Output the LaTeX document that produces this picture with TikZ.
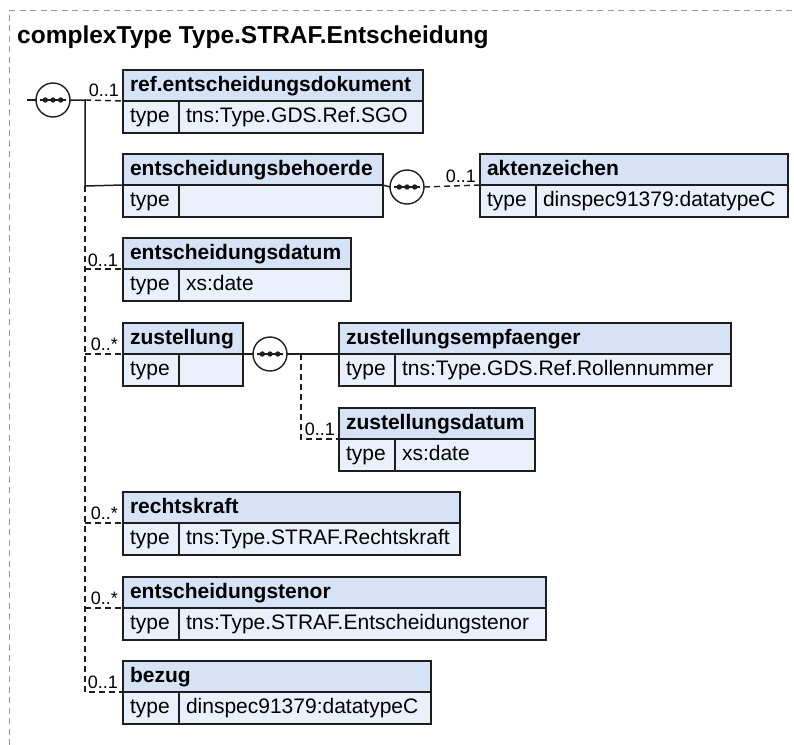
\documentclass[tikz,border=0pt]{standalone}
\usepackage{fontspec}
\setmainfont{Liberation Sans}
\definecolor{hdrfill}{RGB}{214,226,246}
\definecolor{rowfill}{RGB}{234,241,252}
\definecolor{framegray}{RGB}{150,150,150}
\definecolor{edgecol}{RGB}{30,30,30}
\tikzset{
  hdr/.style={rectangle, draw=edgecol, line width=1.3pt, fill=hdrfill, minimum height=31pt,
    inner xsep=7pt, inner ysep=0pt, outer sep=0pt, text height=14pt, text depth=2pt, align=left,
    font={\fontsize{21}{25}\selectfont\bfseries}},
  rowcell/.style={rectangle, draw=edgecol, line width=1.3pt, fill=rowfill, minimum height=32pt,
    inner xsep=7pt, inner ysep=0pt, outer sep=0pt, text height=14pt, text depth=3pt, align=left,
    font={\fontsize{21}{25}\selectfont}},
  seqnode/.style={circle, draw=edgecol, line width=1.4pt, fill=white, minimum size=34pt, inner sep=0pt, outer sep=0pt},
  solidline/.style={draw=edgecol, line width=1.5pt},
  dashline/.style={draw=edgecol, line width=1.4pt, dash pattern=on 6pt off 4pt},
  mult/.style={font={\fontsize{18}{21}\selectfont}, inner sep=0pt, anchor=base east},
  titlenode/.style={font={\fontsize{24.5}{28}\selectfont\bfseries}, inner sep=0pt, anchor=base west},
  framestyle/.style={draw=framegray, line width=1pt, dash pattern=on 6pt off 4.5pt}
}
\newcommand{\xsdbox}[6]{%
  \pgfmathsetmacro{\xsdtw}{#4-14}%
  \pgfmathsetmacro{\xsdvw}{#4-56-14}%
  \node[hdr, text width=\xsdtw pt, anchor=north west] (#1) at (#2,#3) {#5};
  \node[rowcell, text width=42pt, anchor=north west] (#1-t) at (#1.south west) {type};
  \node[rowcell, text width=\xsdvw pt, anchor=north west] (#1-v) at (#1-t.north east) {#6};
}
\newcommand{\seqdots}[1]{%
  \draw[line width=1.3pt, edgecol] ([xshift=-13pt]#1.center) -- ([xshift=13pt]#1.center);
  \foreach \dx in {-7.7,0,7.7} \fill[edgecol] ([xshift=\dx pt]#1.center) circle (2.7pt);
}
\begin{document}
\begin{tikzpicture}[x=1pt, y=-1pt]
\useasboundingbox (0,0) rectangle (794,744);
\draw[framestyle] (9,745) -- (9,10) -- (795,10);
\node[titlenode] (title) at (17,43) {complexType Type.STRAF.Entscheidung};

% element boxes
\xsdbox{ref}{123}{70}{300}{ref.entscheidungsdokument}{tns:Type.GDS.Ref.SGO}
\xsdbox{beh}{123}{154}{260}{entscheidungsbehoerde}{}
\xsdbox{akten}{480}{154}{308}{aktenzeichen}{dinspec91379:datatypeC}
\xsdbox{datum}{123}{238}{228}{entscheidungsdatum}{xs:date}
\xsdbox{zust}{123}{323}{120}{zustellung}{}
\xsdbox{empf}{339}{323}{392}{zustellungsempfaenger}{tns:Type.GDS.Ref.Rollennummer}
\xsdbox{zdat}{339}{408}{196}{zustellungsdatum}{xs:date}
\xsdbox{recht}{123}{492}{337}{rechtskraft}{tns:Type.STRAF.Rechtskraft}
\xsdbox{tenor}{123}{577}{423}{entscheidungstenor}{tns:Type.STRAF.Entscheidungstenor}
\xsdbox{bezug}{123}{661}{308}{bezug}{dinspec91379:datatypeC}

% sequence compositors
\node[seqnode] (seqa) at (53,100) {};
\node[seqnode] (seqb) at (407,187) {};
\node[seqnode] (seqc) at (270,354) {};
\seqdots{seqa}
\seqdots{seqb}
\seqdots{seqc}

% connector points
\coordinate (stub) at (27,100);
\coordinate (spa) at (85,100);
\coordinate (spb) at (85,186);
\coordinate (spc) at (301,354);

% main sequence
\draw[solidline] (stub) -- (seqa.west);
\draw[solidline] (seqa.east) -- (spa) -- (spb) -- (beh.south west);
\draw[dashline] (spa) -- (ref.south west);
\draw[dashline] (spb) -- (spb |- bezug.south west) -- (bezug.south west);
\draw[dashline] (spb |- datum.south west) -- (datum.south west);
\draw[dashline] (spb |- zust.south west) -- (zust.south west);
\draw[dashline] (spb |- recht.south west) -- (recht.south west);
\draw[dashline] (spb |- tenor.south west) -- (tenor.south west);

% entscheidungsbehoerde sequence
\draw[solidline] (beh.south east) -- (seqb.west);
\draw[dashline] (seqb.east) -- (akten.south west);

% zustellung sequence
\draw[solidline] (zust.south east) -- (seqc.west);
\draw[solidline] (seqc.east) -- (empf.south west);
\draw[dashline] (spc) -- (spc |- zdat.south west) -- (zdat.south west);

% multiplicities
\node[mult] (mref) at (119,96) {0..1};
\node[mult] (makten) at (476,182) {0..1};
\node[mult] (mdatum) at (118,266) {0..1};
\node[mult] (mzust) at (118,350) {0..*};
\node[mult] (mzdat) at (335,435) {0..1};
\node[mult] (mrecht) at (118,519) {0..*};
\node[mult] (mtenor) at (118,604) {0..*};
\node[mult] (mbezug) at (118,688) {0..1};
\end{tikzpicture}
\end{document}
